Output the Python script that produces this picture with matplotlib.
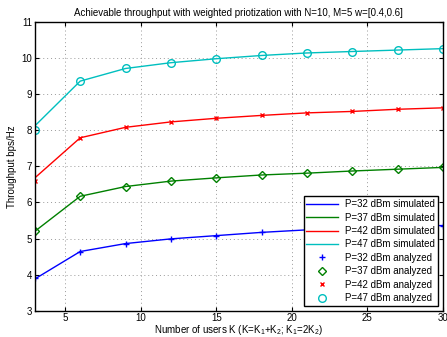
import matplotlib
matplotlib.use('Agg')
import matplotlib.pyplot as plt
import numpy as np

# number of users
K = [3, 6, 9, 12, 15, 18, 21, 24, 27, 30]

# simulated throughput (bps/Hz)
sim_32 = [3.88, 4.64, 4.86, 4.99, 5.08, 5.17, 5.24, 5.29, 5.33, 5.36]
sim_37 = [5.20, 6.17, 6.44, 6.59, 6.68, 6.76, 6.81, 6.87, 6.92, 6.97]
sim_42 = [6.68, 7.79, 8.08, 8.23, 8.33, 8.41, 8.48, 8.52, 8.58, 8.62]
sim_47 = [8.12, 9.36, 9.71, 9.87, 9.98, 10.07, 10.14, 10.18, 10.22, 10.26]

# analyzed throughput (bps/Hz)
ana_32 = [3.90, 4.64, 4.86, 4.99, 5.08, 5.17, 5.24, 5.29, 5.33, 5.36]
ana_37 = [5.20, 6.17, 6.44, 6.59, 6.68, 6.76, 6.81, 6.87, 6.92, 6.97]
ana_42 = [6.60, 7.79, 8.08, 8.23, 8.33, 8.41, 8.48, 8.52, 8.58, 8.62]
ana_47 = [8.00, 9.36, 9.71, 9.87, 9.98, 10.07, 10.14, 10.18, 10.22, 10.26]

powers = [32, 37, 42, 47]
colors = ['#0000ff', '#008000', '#ff0000', '#00bfbf']
markers = ['+', 'D', 'x', 'o']
msizes = [5, 4, 2.5, 5.5]

plt.rcParams['font.family'] = ['Liberation Sans', 'DejaVu Sans']
plt.rcParams['font.size'] = 7
plt.rcParams['mathtext.fontset'] = 'custom'
plt.rcParams['mathtext.rm'] = 'Liberation Sans'

fig = plt.figure(figsize=(4.47, 3.37), dpi=100)
ax = fig.add_axes([0.078, 0.078, 0.913, 0.857])

sims = [sim_32, sim_37, sim_42, sim_47]
anas = [ana_32, ana_37, ana_42, ana_47]

for p, s, c in zip(powers, sims, colors):
    ax.plot(K, s, color=c, lw=1.0, label='P=%d dBm simulated' % p)
for p, a, c, m, ms in zip(powers, anas, colors, markers, msizes):
    ax.plot(K, a, ls='none', marker=m, ms=ms, mfc='none', mec=c, mew=1.0,
            label='P=%d dBm analyzed' % p)

ax.set_xlim(3, 30)
ax.set_ylim(3, 11)
ax.set_xticks([5, 10, 15, 20, 25, 30])
ax.set_yticks(range(3, 12))
ax.tick_params(direction='in', length=3, top=True, right=True, pad=2)
ax.grid(True, ls=(0, (1, 3)), color='#999999', lw=0.7)
for sp in ax.spines.values():
    sp.set_linewidth(1.0)

ax.set_title('Achievable throughput with weighted priotization with N=10, M=5 w=[0.4,0.6]',
             fontsize=7, pad=4)
ax.set_xlabel('Number of users K (K=K$_\\mathrm{1}$+K$_\\mathrm{2}$; K$_\\mathrm{1}$=2K$_\\mathrm{2}$)',
              labelpad=0)
ax.set_ylabel('Throughput bps/Hz', labelpad=3)

leg = ax.legend(loc='lower right', fancybox=False, framealpha=1, edgecolor='black',
                borderaxespad=0.5, handlelength=3.2, labelspacing=0.35, fontsize=7,
                borderpad=0.3)
leg.get_frame().set_linewidth(1.0)

fig.savefig('out.png', dpi=100)
